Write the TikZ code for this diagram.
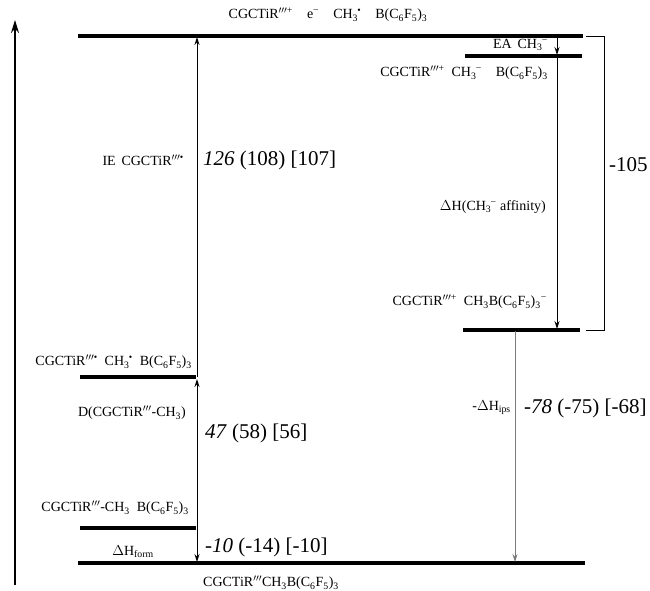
\documentclass[tikz,border=0pt]{standalone}
\usepackage{fontspec}
\setmainfont{Liberation Serif}
\usetikzlibrary{arrows.meta,positioning}
\definecolor{InkBlack}{HTML}{000000}
\definecolor{IpsGrey}{HTML}{7A7A7A}
\newcommand{\tp}{\textsuperscript{$\prime\prime\prime$}}
\newcommand{\tpp}{\textsuperscript{$\prime\prime\prime$+}}
\newcommand{\tpr}{\textsuperscript{$\prime\prime\prime$•}}
\newcommand{\subsup}[2]{\textsubscript{#1}\kern-0.05em\textsuperscript{#2}}
\newcommand{\anion}{\textsuperscript{−}}
\newcommand{\borane}{B(C\textsubscript{6}F\textsubscript{5})\textsubscript{3}}

\begin{document}
\begin{tikzpicture}[
    x=1pt, y=-1pt,
    level/.style={line width=3.6pt, draw=InkBlack},
    arrow/.style={-{Stealth[length=8pt,width=5pt]}, line width=0.9pt, draw=InkBlack},
    lbl/.style={inner sep=0pt, font=\fontsize{14}{16}\selectfont},
    val/.style={inner sep=0pt, font=\fontsize{21}{24}\selectfont}
  ]
    \useasboundingbox (0,0) rectangle (650,590);
    % energy axis
    \coordinate (ax0) at (15,585);
    \coordinate (ax1) at (15,20);
    \draw[-{Stealth[length=13pt,width=8pt]}, line width=1.6pt] (ax0) -- (ax1);
    % levels
    \coordinate (topL) at (78,36);   \coordinate (topR) at (583,36);
    \coordinate (eaL) at (465,56);   \coordinate (eaR) at (582,56);
    \coordinate (ipL) at (463,330);  \coordinate (ipR) at (580,330);
    \coordinate (radL) at (80,377);  \coordinate (radR) at (196,377);
    \coordinate (neuL) at (80,528);  \coordinate (neuR) at (196,528);
    \coordinate (botL) at (78,563);  \coordinate (botR) at (585,563);
    \draw[level] (topL) -- (topR);
    \draw[level] (eaL) -- (eaR);
    \draw[level] (ipL) -- (ipR);
    \draw[level] (radL) -- (radR);
    \draw[level] (neuL) -- (neuR);
    \draw[level] (botL) -- (botR);
    % bracket for -105
    \coordinate (brA) at (586,36);  \coordinate (brB) at (604,36);
    \coordinate (brC) at (604,330); \coordinate (brD) at (586,330);
    \draw[line width=1pt] (brA) -- (brB) -- (brC) -- (brD);
    % transitions
    \coordinate (ie0) at (197,377);  \coordinate (ie1) at (197,37);
    \coordinate (ea0) at (557,37);   \coordinate (ea1) at (557,55);
    \coordinate (af0) at (557,56);   \coordinate (af1) at (557,329);
    \coordinate (d0) at (197,528);   \coordinate (d1) at (197,379);
    \coordinate (hf0) at (197,528);  \coordinate (hf1) at (197,562);
    \coordinate (ips0) at (515,331); \coordinate (ips1) at (515,562);
    \draw[arrow] (ie0) -- (ie1);
    \draw[arrow] (ea0) -- (ea1);
    \draw[arrow] (af0) -- (af1);
    \draw[arrow] (d0) -- (d1);
    \draw[arrow] (hf0) -- (hf1);
    \draw[arrow, draw=IpsGrey] (ips0) -- (ips1);
    % species
    \node[lbl] (top) at (328,15) {CGCTiR\tpp\quad e\anion\quad CH\subsup{3}{•}\quad \borane};
    \node[lbl, anchor=east] (ea) at (548,45) {EA\, CH\subsup{3}{−}};
    \node[lbl, anchor=east] (sep) at (548,73) {CGCTiR\tpp\enspace CH\subsup{3}{−}\quad \borane};
    \node[lbl, anchor=east] (pair) at (547,302) {CGCTiR\tpp\enspace CH\textsubscript{3}\borane\anion};
    \node[lbl, anchor=east] (rad) at (192,362) {CGCTiR\tpr\enspace CH\subsup{3}{•}\enspace \borane};
    \node[lbl, anchor=east] (neu) at (189,508) {CGCTiR\tp-CH\textsubscript{3}\enspace \borane};
    \node[lbl, anchor=west] (bot) at (203,583) {CGCTiR\tp CH\textsubscript{3}\borane};
    % energies
    \node[lbl, anchor=east] (ielbl) at (184,160) {IE\, CGCTiR\tpr};
    \node[val, anchor=west] (ieval) at (203,160) {\textit{126} (108) [107]};
    \node[lbl, anchor=east] (aflbl) at (546,207) {$\Delta$H(CH\subsup{3}{−} affinity)};
    \node[val, anchor=west] (brval) at (609,165) {-105};
    \node[lbl, anchor=east] (dlbl) at (186,413) {D(CGCTiR\tp-CH\textsubscript{3})};
    \node[val, anchor=west] (dval) at (205,433) {\textit{47} (58) [56]};
    \node[lbl] (hflbl) at (133,552) {$\Delta$H\textsubscript{form}};
    \node[val, anchor=west] (hfval) at (205,547) {\textit{-10} (-14) [-10]};
    \node[lbl, anchor=east] (ipslbl) at (511,408) {-$\Delta$H\textsubscript{ips}};
    \node[val, anchor=west] (ipsval) at (524,408) {\textit{-78} (-75) [-68]};
  \end{tikzpicture}
\end{document}
